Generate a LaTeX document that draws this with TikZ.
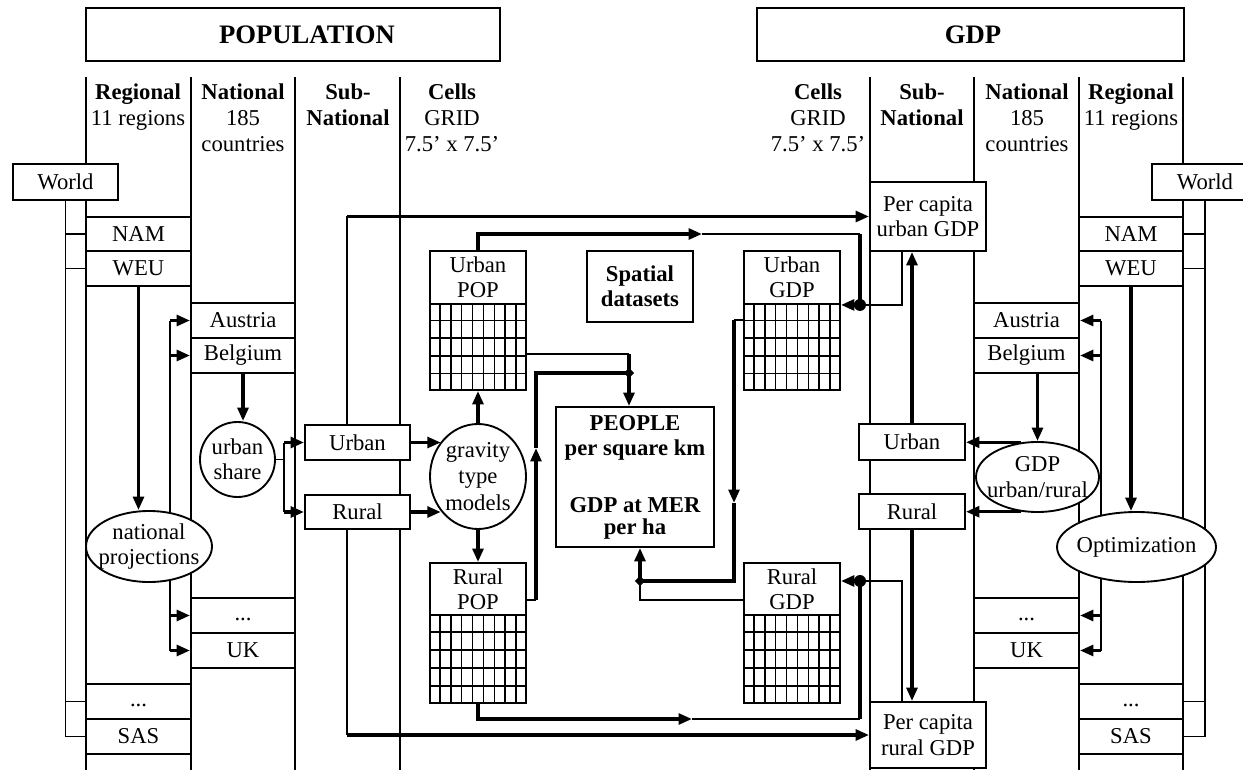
\documentclass[tikz,border=0pt]{standalone}
\usepackage{fontspec}
\setmainfont{Liberation Serif}
\usetikzlibrary{arrows.meta,calc,shapes.geometric}
\begin{document}
\begin{tikzpicture}[x=0.75pt,y=-0.75pt,
  font=\fontsize{17}{19}\selectfont,
  colline/.style={line width=1.8pt},
  bx/.style 2 args={draw,fill=white,line width=1.4pt,inner sep=0pt,minimum width=#1*0.75pt,minimum height=#2*0.75pt,align=center},
  ov/.style 2 args={ellipse,draw,fill=white,line width=1.4pt,inner sep=0pt,minimum width=#1*0.75pt,minimum height=#2*0.75pt},
  conn/.style={line width=1.2pt},
  thk/.style={line width=2.6pt},
  arr/.style={-{Triangle[length=10pt,width=8pt]}},
  hdr/.style={anchor=base,inner sep=0pt},
  bf/.style={font=\fontsize{17}{19}\selectfont\bfseries},
  ttl/.style={font=\fontsize{20}{24}\selectfont\bfseries},
  jdot/.style={circle,fill=black,inner sep=0pt,minimum size=9pt},
  jdia/.style={diamond,fill=black,inner sep=0pt,minimum width=8pt,minimum height=8pt},
  gridline/.style={line width=1.2pt},
  txt/.style={align=center,inner sep=0pt}
]
\useasboundingbox (0,0) rectangle (1243,770);

% column lines
\foreach \x [count=\i] in {86,191,295,400,870,974,1079,1183} {
  \coordinate (ct\i) at (\x,77); \coordinate (cb\i) at (\x,770);
  \draw[colline] (ct\i) -- (cb\i);
}

% titles
\node[bx={414}{53}] (pop) at (293,34.5) {};
\node[txt,ttl] (popT) at (307,34.5) {POPULATION};
\node[bx={427}{53}] (gdp) at (970.5,34.5) {};
\node[txt,ttl] (gdpT) at (973,34.5) {GDP};

% headers left
\node[hdr,bf] (hRa) at (138,100) {Regional};
\node[hdr] (hRb) at (138,126) {11 regions};
\node[hdr,bf] (hNa) at (243,100) {National};
\node[hdr] (hNb) at (243,126) {185};
\node[hdr] (hNc) at (243,152) {countries};
\node[hdr,bf] (hSa) at (348,100) {Sub-};
\node[hdr,bf] (hSb) at (348,126) {National};
\node[hdr,bf] (hCa) at (452,100) {Cells};
\node[hdr] (hCb) at (452,126) {GRID};
\node[hdr] (hCc) at (452,152) {7.5’ x 7.5’};
% headers right
\node[hdr,bf] (gCa) at (818,100) {Cells};
\node[hdr] (gCb) at (818,126) {GRID};
\node[hdr] (gCc) at (818,152) {7.5’ x 7.5’};
\node[hdr,bf] (gSa) at (922,100) {Sub-};
\node[hdr,bf] (gSb) at (922,126) {National};
\node[hdr,bf] (gNa) at (1027,100) {National};
\node[hdr] (gNb) at (1027,126) {185};
\node[hdr] (gNc) at (1027,152) {countries};
\node[hdr,bf] (gRa) at (1131,100) {Regional};
\node[hdr] (gRb) at (1131,126) {11 regions};

% world boxes
\node[bx={105}{36}] (worldL) at (65.5,182) {World};
\begin{scope}
\clip (0,0) rectangle (1243,770);
\node[bx={106}{36}] (worldR) at (1205,182) {World};
\end{scope}

% regional boxes
\node[bx={105}{34}] (namL) at (138.5,234) {NAM};
\node[bx={105}{35}] (weuL) at (138.5,268.5) {WEU};
\node[bx={105}{35}] (rdL) at (138.5,701.5) {\strut...};
\node[bx={105}{35}] (sasL) at (138.5,736.5) {SAS};
\node[bx={104}{34}] (namR) at (1131,234) {NAM};
\node[bx={104}{35}] (weuR) at (1131,268.5) {WEU};
\node[bx={104}{35}] (rdR) at (1131,701.5) {\strut...};
\node[bx={104}{35}] (sasR) at (1131,736.5) {SAS};

% national boxes
\node[bx={104}{35}] (austL) at (243,320.5) {Austria};
\node[bx={104}{35}] (belL) at (243,355.5) {Belgium};
\node[bx={104}{35}] (ndL) at (243,615.5) {\strut...};
\node[bx={104}{35}] (ukL) at (243,650.5) {UK};
\node[bx={105}{35}] (austR) at (1026.5,320.5) {Austria};
\node[bx={105}{35}] (belR) at (1026.5,355.5) {Belgium};
\node[bx={105}{35}] (ndR) at (1026.5,615.5) {\strut...};
\node[bx={105}{35}] (ukR) at (1026.5,650.5) {UK};

% sub-national boxes
\node[bx={105}{35}] (urbL) at (357.5,442.5) {Urban};
\node[bx={105}{34}] (rurL) at (357.5,512) {Rural};
\node[bx={106}{36}] (urbR) at (912,442) {Urban};
\node[bx={106}{35}] (rurR) at (912,511.5) {Rural};
\node[bx={116}{69}] (pcu) at (928,216.5) {Per capita\\urban GDP};
\node[bx={116}{66}] (pcr) at (928,735) {Per capita\\rural GDP};

% grids
\node[bx={96}{53}] (upopL) at (478,277.5) {Urban\\POP};
\node[bx={96}{86}] (upopG) at (478,347) {};
\node[bx={96}{52}] (rpopL) at (478,589) {Rural\\POP};
\node[bx={96}{88}] (rpopG) at (478,659) {};
\node[bx={96}{53}] (ugdpL) at (792,277.5) {Urban\\GDP};
\node[bx={96}{86}] (ugdpG) at (792,347) {};
\node[bx={96}{52}] (rgdpL) at (792,589) {Rural\\GDP};
\node[bx={96}{88}] (rgdpG) at (792,659) {};
\foreach \g in {upopG,rpopG,ugdpG,rgdpG} {
  \foreach \i in {1,...,8}
    \draw[gridline] ($(\g.north west)!\i/9!(\g.north east)$) -- ($(\g.south west)!\i/9!(\g.south east)$);
  \foreach \j in {1,...,4}
    \draw[gridline] ($(\g.north west)!\j/5!(\g.south west)$) -- ($(\g.north east)!\j/5!(\g.south east)$);
}

% centre boxes
\node[bx={106}{71},bf] (sp) at (640,286.5) {Spatial\\datasets};
\node[bx={158}{140},bf] (ppl) at (635,477) {PEOPLE\\per square km\\[24pt]GDP at MER\\[-3pt]per ha};

% world trees
\draw[conn] (worldL.south) -- (worldL.south |- sasL.west) -- (sasL.west);
\foreach \b in {namL,weuL,rdL} \draw[conn] (worldL.south |- \b.west) -- (\b.west);
\draw[conn] (worldR.south) -- (worldR.south |- sasR.east) -- (sasR.east);
\foreach \b in {namR,weuR,rdR} \draw[conn] (worldR.south |- \b.east) -- (\b.east);

% national forks
\coordinate (fL) at (170,0);
\coordinate (fR) at (1101,0);
\draw[conn] (fL |- austL.west) -- (fL |- ukL.west);
\foreach \b in {austL,belL,ndL,ukL} \draw[thk,arr] (fL |- \b.west) -- (\b.west);
\draw[conn] (fR |- austR.east) -- (fR |- ukR.east);
\foreach \b in {austR,belR,ndR,ukR} \draw[thk,arr] (fR |- \b.east) -- (\b.east);

% ellipses
\node[ov={126}{71}] (natproj) at (149,546.5) {};
\node[txt] (natprojT) at (natproj) {national\\projections};
\node[ov={75}{75}] (urbshare) at (237.5,459.5) {};
\node[txt] (urbshareT) at (urbshare) {urban\\share};
\node[ov={96}{105}] (gravity) at (478,476.5) {};
\node[txt] (gravityT) at (gravity) {gravity\\[1pt]type\\[1pt]models};
\node[ov={123}{70}] (gdpur) at (1037.5,477) {};
\node[txt] (gdpurT) at (gdpur) {GDP\\urban/rural};
\node[ov={159}{70}] (optim) at (1136.5,547) {};
\node[txt] (optimT) at (optim) {Optimization};

% left connectors
\draw[thk,arr] (weuL.south) -- (weuL.south |- natproj.north);
\draw[thk,arr] (belL.south) -- (belL.south |- urbshare.north);
\coordinate (fU) at (284,0);
\draw[conn] (urbshare.east) -- (fU |- urbshare.east);
\draw[conn] (fU |- urbL.west) -- (fU |- rurL.west);
\draw[thk,arr] (fU |- urbL.west) -- (urbL.west);
\draw[thk,arr] (fU |- rurL.west) -- (rurL.west);

\coordinate (sL) at (347,0);
\draw[conn] (sL |- urbL.north) -- (sL |- pcu.west);
\draw[thk,arr] (sL |- pcu.west) -- (pcu.west);
\draw[conn] (sL |- rurL.south) -- (sL |- pcr.west);
\draw[thk,arr] (sL |- pcr.west) -- (pcr.west);

\draw[thk,arr] (urbL.east) -- (gravity.137 |- urbL.east);
\draw[thk,arr] (rurL.east) -- (gravity.223 |- rurL.east);
\draw[thk,arr] (gravity.north) -- (upopG.south);
\draw[thk,arr] (gravity.south) -- (rpopL.north);

% urban POP -> urban GDP
\coordinate (mU) at (702,234);
\coordinate (rU) at (860,234);
\coordinate (jU) at (rU |- ugdpL.south east);
\draw[thk,arr] (upopL.north) |- (mU);
\draw[conn] (mU) -- (rU);
\draw[thk] (rU) -- (jU);
\draw[thk,arr] (jU) -- (jU -| ugdpL.south east);
\coordinate (pU) at (902,0);
\draw[conn] (pU |- pcu.south) |- (jU);
\node[jdot] (dU) at (jU) {};

% rural POP -> rural GDP
\coordinate (mR) at (692,719);
\coordinate (rR) at (860,719);
\coordinate (jR) at (860,581);
\draw[thk,arr] (rpopG.south) |- (mR);
\draw[conn] (mR) -- (rR);
\draw[thk] (rR) -- (jR);
\draw[thk,arr] (jR) -- (jR -| rgdpL.east);
\draw[conn] (pU |- pcr.north) |- (jR);
\node[jdot] (dR) at (jR) {};

% POP -> PEOPLE
\coordinate (jP) at (629,373);
\coordinate (a1) at ($(upopG.north east)+(0,51)$);
\draw[conn] (a1) -- (a1 -| jP);
\draw[thk] (a1 -| jP) -- (jP);
\draw[thk,arr] (jP) -- (jP |- ppl.north);
\coordinate (a2) at ($(rpopL.south east)+(0,-16)$);
\coordinate (vP) at (536,0);
\coordinate (mP) at (536,448);
\draw[conn] (a2) -- (vP |- a2);
\draw[thk,arr] (vP |- a2) -- (mP);
\draw[thk] (mP) |- (jP);
\node[jdia] (dP) at (jP) {};

% GDP -> PEOPLE
\coordinate (jQ) at (640,581);
\coordinate (b1) at ($(ugdpG.north west)+(0,17)$);
\coordinate (vQ) at (734,0);
\coordinate (mQ) at (734,503);
\draw[conn] (b1) -- (vQ |- b1);
\draw[thk,arr] (vQ |- b1) -- (mQ);
\draw[thk] (mQ) |- (jQ);
\draw[thk,arr] (jQ) -- (jQ |- ppl.south);
\coordinate (b2) at ($(rgdpL.south west)+(0,-16)$);
\draw[conn] (b2) -| (jQ);
\node[jdia] (dQ) at (jQ) {};

% right connectors
\draw[thk,arr] (urbR.north) -- (urbR.north |- pcu.south);
\draw[thk,arr] (rurR.south) -- (rurR.south |- pcr.north);
\draw[thk,arr] (gdpur.north |- belR.south) -- (gdpur.north);
\draw[thk,arr] (gdpur.115) -- (gdpur.115 -| urbR.east);
\draw[thk,arr] (gdpur.245) -- (gdpur.245 -| rurR.east);
\draw[thk,arr] (weuR.south) -- (weuR.south |- optim.north);
\end{tikzpicture}
\end{document}
